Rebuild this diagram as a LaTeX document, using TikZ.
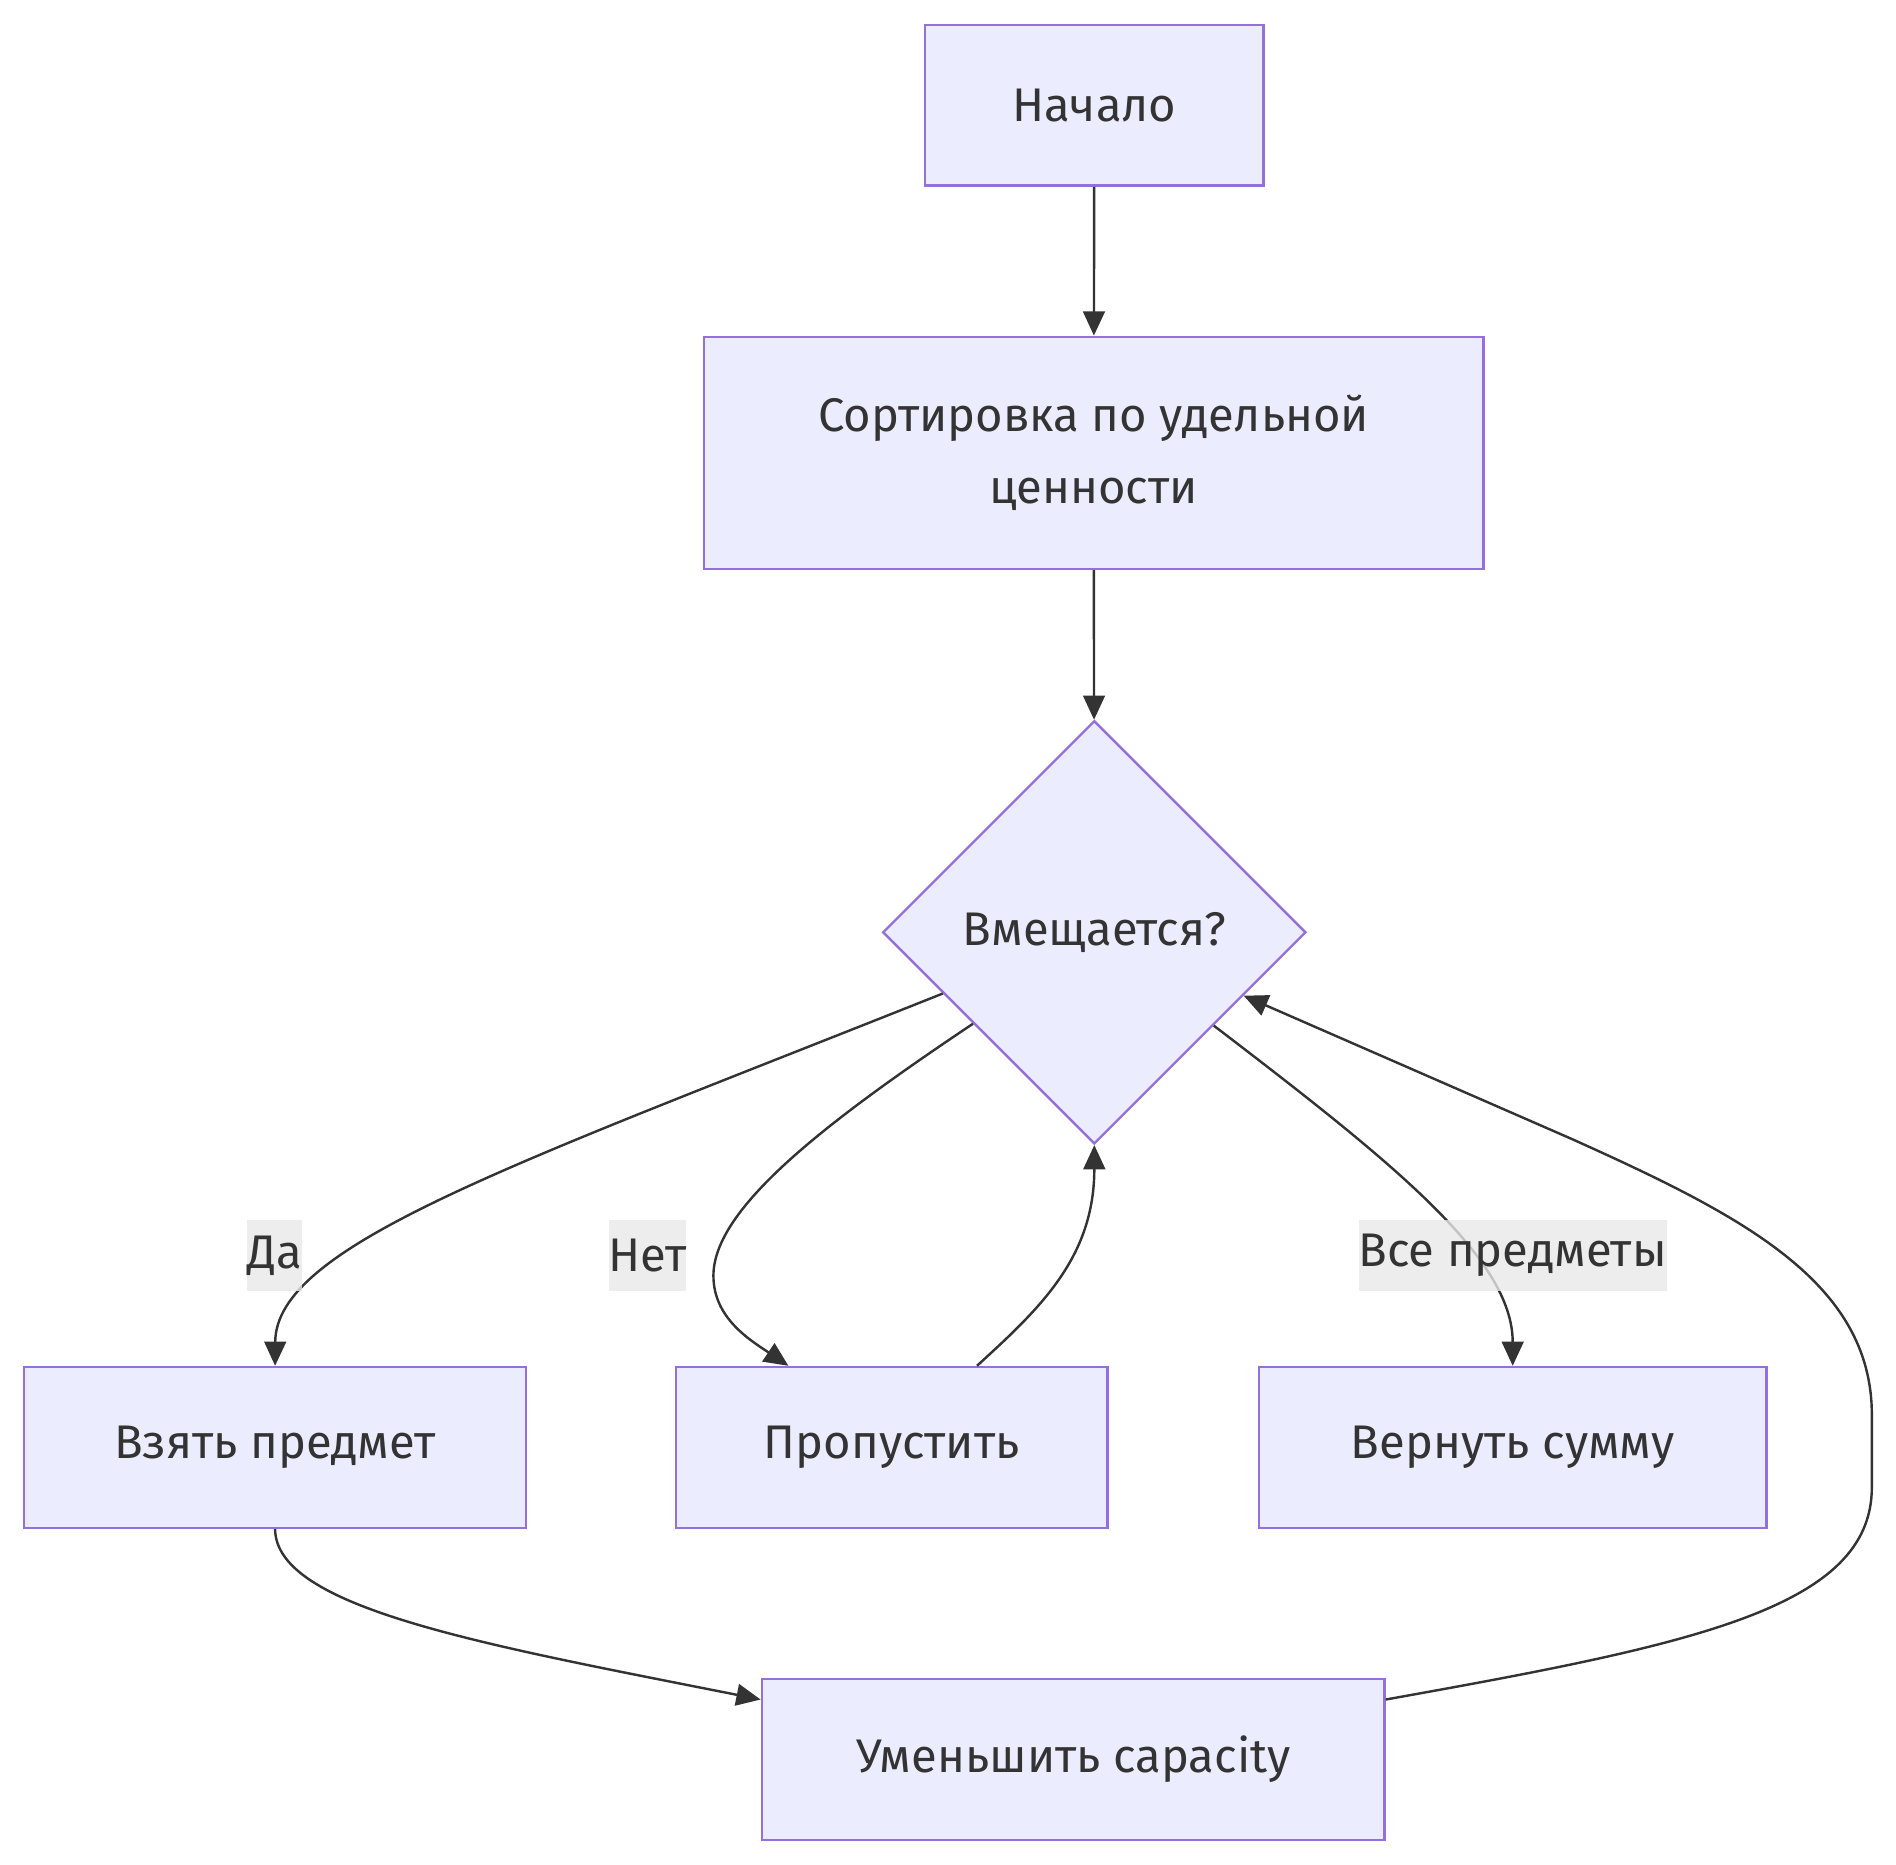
\documentclass[tikz,border=0pt]{standalone}
\usepackage{fontspec}
\setmainfont{Fira Sans}
\usetikzlibrary{shapes.geometric,arrows.meta,calc}
\definecolor{nodefill}{HTML}{ECECFF}
\definecolor{nodeline}{HTML}{9370DB}
\definecolor{ink}{HTML}{333333}
\definecolor{lblbg}{HTML}{E8E8E8}
\begin{document}
\begin{tikzpicture}[x=0.5pt,y=-0.5pt, font=\fontsize{19.5}{30}\selectfont, text=ink,
  box/.style={draw=nodeline, fill=nodefill, line width=1pt, inner sep=0pt, align=center},
  lbl/.style={fill=lblbg, fill opacity=0.8, text opacity=1, inner sep=0pt, minimum height=29.5pt},
  conn/.style={draw=ink, line width=1pt, -{Triangle[length=10pt,width=9pt]}},
]
\useasboundingbox (0,0) rectangle (1568,1542);
\node[box, minimum width=140pt, minimum height=66.5pt] (start) at (905,87) {Начало};
\node[box, minimum width=322.5pt, minimum height=96pt] (sort) at (904.5,374.5) {Сортировка по удельной\\ценности};
\node[box, diamond, aspect=1, minimum width=175pt, minimum height=175pt] (dia) at (905,771) {Вмещается?};
\node[box, minimum width=207.5pt, minimum height=66.5pt] (take) at (227.5,1197) {Взять предмет};
\node[box, minimum width=178.5pt, minimum height=66.5pt] (skip) at (737.5,1197) {Пропустить};
\node[box, minimum width=210pt, minimum height=66.5pt] (ret) at (1251,1197) {Вернуть сумму};
\node[box, minimum width=257.5pt, minimum height=66.5pt] (dec) at (887.5,1455) {Уменьшить capacity};

\draw[conn] (start) -- (sort);
\draw[conn] (sort) -- (dia);
\draw[conn] (dia.202) .. controls (420,965) and (228,1030) .. (take.north);
\draw[conn] (dia.217) .. controls (680,930) and (590,1000) .. (590,1055) .. controls (590,1090) and (620,1108) .. ($(skip.north)+(-85.5,0)$);
\draw[conn] ($(skip.north)+(70.5,0)$) .. controls (860,1082) and (905,1040) .. (dia.south);
\draw[conn] (dia.-38) .. controls (1150,960) and (1251,1040) .. (ret.north);
\draw[conn] (take.south) .. controls (228,1330) and (400,1360) .. ($(dec.west)+(0,-49.5)$);
\draw[conn] ($(dec.east)+(0,-49.5)$) .. controls (1400,1360) and (1548,1330) .. (1548,1230) -- (1548,1170) .. controls (1548,1060) and (1440,1005) .. (1300,942) -- (dia.-23);

\node[lbl] (lyes) at (227,1038.5) {Да};
\node[lbl] (lno) at (535.5,1038.5) {Нет};
\node[lbl] (lall) at (1251,1038.5) {Все предметы};
\end{tikzpicture}
\end{document}
